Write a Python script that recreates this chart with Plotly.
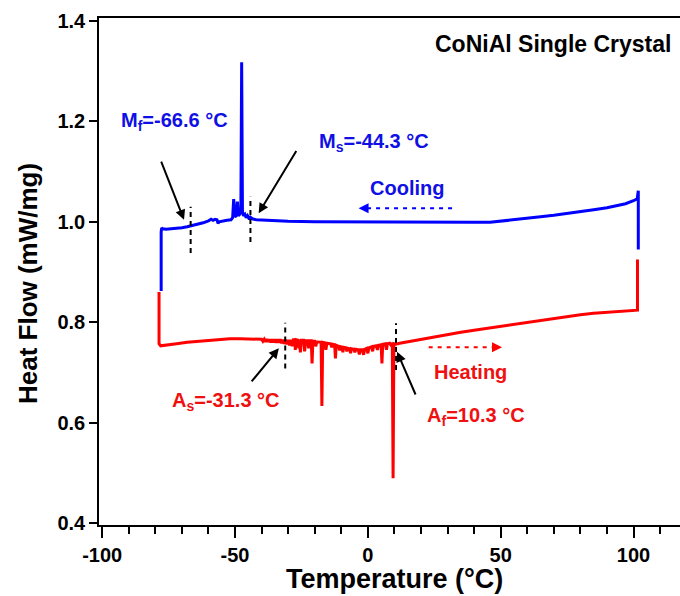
import plotly.graph_objects as go

# ---------------- data ----------------
cool_T = [101.8, 101.8, 101.4, 100, 97, 94, 90, 85, 80, 75, 70, 65, 60, 55, 50, 46,
          40, 30, 20, 10, 0, -10, -20, -30, -38, -42, -43.5, -44.2, -44.6, -45.3,
          -45.8, -46.3, -46.8, -47.2, -47.5, -47.8, -48.2, -48.7, -49.1, -49.5,
          -50.0, -50.5, -50.9, -51.5, -53, -55, -56, -56.4, -56.8, -57.5, -58.3,
          -59, -60, -62, -64, -66, -68, -70, -72, -74, -76, -77.2, -77.6, -77.8, -77.8]
cool_HF = [0.945, 1.062, 1.046, 1.042, 1.036, 1.032, 1.028, 1.024, 1.020, 1.016, 1.013,
           1.010, 1.007, 1.004, 1.001, 0.999, 0.999, 0.999, 1.0, 1.0, 1.0, 1.0, 1.0,
           1.001, 1.002, 1.004, 1.006, 1.009, 1.005, 1.012, 1.008, 1.015, 1.012, 1.02,
           1.318, 1.02, 1.015, 1.012, 1.040, 1.012, 1.010, 1.045, 1.008, 1.004, 1.003,
           1.002, 1.0, 0.997, 1.004, 1.005, 1.003, 1.005, 1.002, 0.998, 0.995, 0.992,
           0.990, 0.988, 0.987, 0.986, 0.985, 0.986, 0.988, 0.980, 0.862]

heat_T = [-78.6, -78.6, -78.0, -76, -72, -68, -64, -60, -56, -52, -48, -44, -41,
          -40, -39.5, -39, -38.5, -38, -37.5, -37, -36.5, -36, -35.5, -35, -34.5,
          -34, -33.5, -33, -32.5, -32, -31.5, -31, -30.5, -30, -29.5, -29, -28.5, -28,
          -27.5, -27.3, -27.0, -26.3, -26.0, -25.7, -25.4, -25.1, -24.2, -23.8, -23.4,
          -22.6, -22.3, -22.0, -21.3, -21.0, -20.7, -20.0, -19.6, -19.2, -17.6, -17.3,
          -17.0, -16.2, -15.8, -15.4, -14.0, -13.6, -13.2, -12.5, -12.2, -11.9, -11.0,
          -10.6, -10.2, -9.7, -9.4, -9.1, -8.2, -7.9, -7.6, -6.8, -6.5, -6.2, -5.2,
          -4.9, -4.6, -3.6, -3.2, -2.8, -2.0, -1.6, -1.2, -0.4, 0.0, 0.4, 1.4, 1.8,
          2.2, 3.2, 3.6, 4.0, 5.0, 5.3, 5.6, 6.6, 7.0, 7.4, 8.2, 8.6, 9.2, 9.5, 9.8,
          10.5, 12, 15, 20, 25, 30, 35, 40, 45, 50, 55, 60, 65, 70, 75, 80, 85, 90,
          95, 100, 101.5, 101.5]
heat_HF = [0.86, 0.757, 0.753, 0.754, 0.757, 0.760, 0.762, 0.764, 0.766, 0.767, 0.767,
           0.767, 0.766,
           0.766, 0.762, 0.766, 0.761, 0.766, 0.761, 0.766, 0.760, 0.766, 0.760, 0.766,
           0.759, 0.766, 0.759, 0.766, 0.758, 0.765, 0.757, 0.765, 0.756, 0.765, 0.754,
           0.765, 0.752, 0.765,
           0.765, 0.745, 0.765, 0.764, 0.748, 0.764, 0.740, 0.764, 0.764, 0.742, 0.763,
           0.763, 0.748, 0.763, 0.763, 0.718, 0.762, 0.762, 0.752, 0.761, 0.760, 0.633,
           0.760, 0.759, 0.745, 0.758, 0.757, 0.750, 0.756, 0.755, 0.728, 0.754, 0.752,
           0.744, 0.751, 0.750, 0.740, 0.750, 0.749, 0.742, 0.748, 0.747, 0.738, 0.747,
           0.746, 0.740, 0.746, 0.745, 0.736, 0.745, 0.745, 0.735, 0.746, 0.748, 0.738,
           0.749, 0.751, 0.742, 0.752, 0.753, 0.745, 0.754, 0.755, 0.718, 0.756, 0.757,
           0.745, 0.757, 0.758, 0.755, 0.758, 0.489, 0.757,
           0.756, 0.758, 0.761, 0.766, 0.771, 0.775, 0.780, 0.784, 0.788, 0.792, 0.796,
           0.800, 0.804, 0.808, 0.812, 0.815, 0.818, 0.820, 0.822, 0.824, 0.824, 0.925]

x_ticks = [-100, -50, 0, 50, 100]
x_tick_text = ["-100", "-50", "0", "50", "100"]
y_ticks = [0.4, 0.6, 0.8, 1.0, 1.2, 1.4]
y_tick_text = ["0.4", "0.6", "0.8", "1.0", "1.2", "1.4"]

BLUE = "#0000FF"
RED = "#FF0000"
BLUE_T = "#1010E6"
RED_T = "#F01010"
FONT = "Liberation Sans, Arial, sans-serif"

fig = go.Figure()
fig.add_trace(go.Scatter(x=cool_T, y=cool_HF, mode="lines",
                         line=dict(color=BLUE, width=3), hoverinfo="skip"))
fig.add_trace(go.Scatter(x=heat_T, y=heat_HF, mode="lines",
                         line=dict(color=RED, width=3), hoverinfo="skip"))

# dashed direction lines
fig.add_trace(go.Scatter(x=[31.7, -1.5], y=[1.027, 1.027], mode="lines",
                         line=dict(color=BLUE, width=2, dash="4px,5px"), hoverinfo="skip"))
fig.add_trace(go.Scatter(x=[22.9, 48.5], y=[0.75, 0.75], mode="lines",
                         line=dict(color=RED, width=2, dash="4px,5px"), hoverinfo="skip"))

# vertical dashed markers
for xv, y0, y1 in [(-66.7, 0.938, 1.03), (-44.2, 0.96, 1.05),
                   (-31.1, 0.708, 0.799), (10.6, 0.705, 0.798)]:
    fig.add_shape(type="line", x0=xv, x1=xv, y0=y0, y1=y1, xref="x", yref="y",
                  line=dict(color="black", width=2, dash="5px,4px"))

ann = []
def txt(x, y, s, color, size=20, xanchor="center"):
    ann.append(dict(x=x, y=y, xref="x", yref="y", text="<b>" + s + "</b>",
                    showarrow=False, xanchor=xanchor, yanchor="middle",
                    font=dict(family=FONT, size=size, color=color)))

def arrow(x0, y0, x1, y1, color="black", width=2, head=2, size=1.0):
    ann.append(dict(x=x1, y=y1, ax=x0, ay=y0, xref="x", yref="y", axref="x", ayref="y",
                    text="", showarrow=True, arrowhead=head, arrowsize=size,
                    arrowwidth=width, arrowcolor=color, standoff=0))

txt(-72.7, 1.2, "M<sub>f</sub>=-66.6 °C", BLUE_T)
txt(2.4, 1.157, "M<sub>s</sub>=-44.3 °C", BLUE_T)
txt(14.7, 1.067, "Cooling", BLUE_T)
txt(38.8, 0.701, "Heating", RED_T)
txt(-53.4, 0.642, "A<sub>s</sub>=-31.3 °C", RED_T)
txt(40.8, 0.612, "A<sub>f</sub>=10.3 °C", RED_T)
ann.append(dict(x=1.0, y=1.0, xref="paper", yref="paper", xanchor="right", yanchor="top",
                xshift=-7, yshift=-11, text="<b>CoNiAl Single Crystal</b>", showarrow=False,
                font=dict(family=FONT, size=23, color="black")))

arrow(-78.0, 1.123, -69.2, 1.004)
arrow(-26.6, 1.144, -41.1, 1.017)
arrow(-44.2, 0.679, -33.5, 0.748)
arrow(18.2, 0.653, 11.0, 0.741)
arrow(0.5, 1.027, -3.5, 1.027, color=BLUE, width=2, head=2, size=1.0)
arrow(46.5, 0.75, 50.5, 0.75, color=RED, width=2, head=2, size=1.0)

# axis titles
ann.append(dict(x=0, xref="paper", y=0.876, yref="y", xshift=-71, text="<b>Heat Flow (mW/mg)</b>",
                textangle=-90, showarrow=False, xanchor="center", yanchor="middle",
                font=dict(family=FONT, size=26, color="black")))
ann.append(dict(x=10, xref="x", y=0, yref="paper", yshift=-54, text="<b>Temperature (°C)</b>",
                showarrow=False, xanchor="center", yanchor="middle",
                font=dict(family=FONT, size=27, color="black")))

fig.update_layout(
    width=680, height=596,
    margin=dict(l=99, r=0, t=18, b=71),
    paper_bgcolor="white", plot_bgcolor="white",
    showlegend=False,
    annotations=ann,
    font=dict(family=FONT, size=20, color="black"),
)
fig.update_xaxes(range=[-101.2, 117.5], tickvals=x_ticks, ticktext=x_tick_text,
                 ticks="outside", ticklen=11,
                 tickwidth=1.5, tickcolor="black", showline=True, linecolor="black",
                 linewidth=1.5, mirror=True, showgrid=False, zeroline=False,
                 tickfont=dict(family=FONT, size=20, color="black", weight="bold"),
                 minor=dict(dtick=10, tick0=0, ticks="outside", ticklen=7,
                            tickwidth=1.5, tickcolor="black", showgrid=False))
fig.update_yaxes(range=[0.396, 1.406], tickvals=y_ticks, ticktext=y_tick_text,
                 ticks="outside", ticklen=8, tickwidth=1.5, tickcolor="black",
                 showline=True, linecolor="black", linewidth=1.5, showgrid=False,
                 zeroline=False,
                 tickfont=dict(family=FONT, size=20, color="black", weight="bold"))

fig.write_html("out.html")
